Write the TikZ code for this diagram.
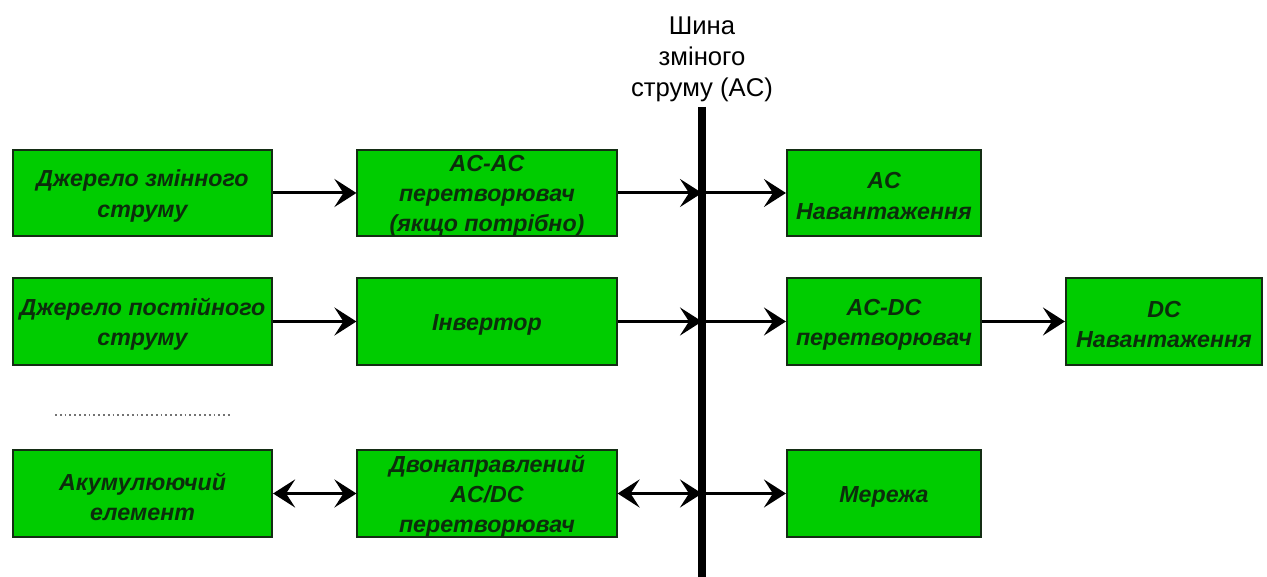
\documentclass[tikz,border=0pt]{standalone}
\usepackage{fontspec}
\setmainfont{Liberation Sans}
\usetikzlibrary{arrows.meta}
\definecolor{boxfill}{RGB}{0,204,0}
\definecolor{boxline}{RGB}{20,45,20}
\definecolor{boxtext}{RGB}{12,45,12}
\tikzset{
  blk/.style={draw=boxline, line width=0.02cm, fill=boxfill, minimum height=0.865cm,
    inner sep=0pt},
  wblk/.style={blk, minimum width=2.59cm},
  nblk/.style={blk, minimum width=1.94cm},
  boxtxt/.style={align=center, text=boxtext, inner sep=0pt, yshift=-0.03cm,
    font=\fontsize{6.6}{8.55}\selectfont\bfseries\itshape},
  tip/.tip={Stealth[length=0.22cm, width=0.28cm, inset=0.09cm]},
  conn/.style={line width=0.03cm, -tip},
  biconn/.style={line width=0.03cm, tip-tip},
  busline/.style={line width=0.075cm},
  buslabel/.style={align=center, font=\fontsize{7.3}{8.8}\selectfont},
}
\begin{document}
\begin{tikzpicture}[x=0.01cm, y=-0.01cm]
\useasboundingbox (0,0) rectangle (1267,577);
% boxes
\node[wblk, label={[boxtxt]center:{Джерело змінного\\струму}}] (s1) at (142.5,193) {};
\node[wblk, label={[boxtxt]center:{Джерело постійного\\струму}}] (s2) at (142.5,321.5) {};
\node[wblk, label={[boxtxt]center:{Акумулюючий\\елемент}}] (s3) at (142.5,493.5) {};
\node[wblk, label={[boxtxt]center:{AC-AC\\перетворювач\\(якщо потрібно)}}] (c1) at (487,193) {};
\node[wblk, label={[boxtxt]center:{Інвертор}}] (c2) at (487,321.5) {};
\node[wblk, label={[boxtxt]center:{Двонаправлений\\AC/DC\\перетворювач}}] (c3) at (487,493.5) {};
\node[nblk, label={[boxtxt]center:{AC\\Навантаження}}] (r1) at (884,193) {};
\node[nblk, label={[boxtxt]center:{AC-DC\\перетворювач}}] (r2) at (884,321.5) {};
\node[nblk, label={[boxtxt]center:{Мережа}}] (r3) at (884,493.5) {};
\node[blk, minimum width=1.96cm, label={[boxtxt]center:{DC\\Навантаження}}] (d2) at (1164,321.5) {};
% bus
\coordinate (bt) at (702,107);
\coordinate (bb) at (702,577);
\coordinate (b1) at (702,193);
\coordinate (b2) at (702,321.5);
\coordinate (b3) at (702,493.5);
\node[buslabel] (bl) at (702,59) {Шина\\зміного\\струму (AC)};
% connectors
\draw[conn] (s1) -- (c1);
\draw[conn] (s2) -- (c2);
\draw[biconn] (s3) -- (c3);
\draw[conn] (c1) -- (b1);
\draw[conn] (c2) -- (b2);
\draw[biconn] (c3.east) -- (b3);
\draw[conn] (b1) -- (r1);
\draw[conn] (b2) -- (r2);
\draw[conn] (b3) -- (r3);
\draw[conn] (r2) -- (d2);
\draw[busline] (bt) -- (bb);
% dotted line
\coordinate (d1a) at (55,415);
\coordinate (d1b) at (230,415);
\draw[black!55, line width=0.018cm, dash pattern=on 0.018cm off 0.03cm] (d1a) -- (d1b);
\end{tikzpicture}
\end{document}
